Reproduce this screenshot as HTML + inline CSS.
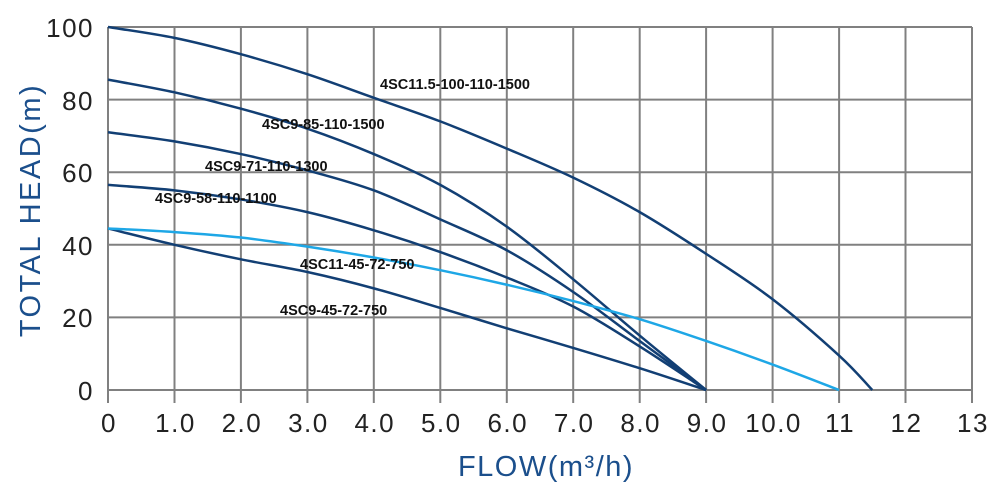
<!DOCTYPE html>
<html><head><meta charset="utf-8"><style>body{margin:0;background:#fff}svg{display:block}</style></head>
<body>
<svg id="s" width="1000" height="500" viewBox="0 0 1000 500" xmlns="http://www.w3.org/2000/svg" font-family="Liberation Sans, sans-serif">
<g stroke="#808080" stroke-width="2" fill="none">
<line x1="108" y1="27" x2="972" y2="27"/><line x1="108" y1="99.6" x2="972" y2="99.6"/><line x1="108" y1="172.2" x2="972" y2="172.2"/><line x1="108" y1="244.8" x2="972" y2="244.8"/><line x1="108" y1="317.4" x2="972" y2="317.4"/><line x1="108" y1="390" x2="972" y2="390"/>
<line x1="108" y1="27" x2="108" y2="403"/><line x1="174.5" y1="27" x2="174.5" y2="403"/><line x1="240.9" y1="27" x2="240.9" y2="403"/><line x1="307.4" y1="27" x2="307.4" y2="403"/><line x1="373.8" y1="27" x2="373.8" y2="403"/><line x1="440.3" y1="27" x2="440.3" y2="403"/><line x1="506.8" y1="27" x2="506.8" y2="403"/><line x1="573.2" y1="27" x2="573.2" y2="403"/><line x1="639.7" y1="27" x2="639.7" y2="403"/><line x1="706.1" y1="27" x2="706.1" y2="403"/><line x1="772.6" y1="27" x2="772.6" y2="403"/><line x1="839.1" y1="27" x2="839.1" y2="403"/><line x1="905.5" y1="27" x2="905.5" y2="403"/><line x1="972" y1="27" x2="972" y2="403"/>
</g>
<g fill="#222" font-size="26" text-anchor="end" letter-spacing="1.5">
<text x="94" y="37">100</text><text x="94" y="110">80</text><text x="94" y="182">60</text><text x="94" y="255">40</text><text x="94" y="327">20</text><text x="94" y="400">0</text>
</g>
<g fill="#222" font-size="26" text-anchor="middle" letter-spacing="1.5">
<text x="109" y="432">0</text><text x="175.5" y="432">1.0</text><text x="241.9" y="432">2.0</text><text x="308.4" y="432">3.0</text><text x="374.8" y="432">4.0</text><text x="441.3" y="432">5.0</text><text x="507.8" y="432">6.0</text><text x="574.2" y="432">7.0</text><text x="640.7" y="432">8.0</text><text x="707.1" y="432">9.0</text><text x="773.6" y="432">10.0</text><text x="840.1" y="432">11</text><text x="906.5" y="432">12</text><text x="973" y="432">13</text>
</g>
<text x="546" y="476" font-size="29" fill="#1b4f8c" text-anchor="middle" letter-spacing="1.5">FLOW(m³/h)</text>
<text transform="translate(40,210) rotate(-90)" font-size="29" fill="#1b4f8c" text-anchor="middle" letter-spacing="2.5">TOTAL HEAD(m)</text>
<g id="curves" fill="none" stroke-width="2.5" stroke-linejoin="round"></g>
<g fill="#111" font-size="14.5" font-weight="bold">
<text x="380" y="89">4SC11.5-100-110-1500</text>
<text x="262" y="129">4SC9-85-110-1500</text>
<text x="205" y="171">4SC9-71-110-1300</text>
<text x="155" y="203">4SC9-58-110-1100</text>
<text x="300" y="269">4SC11-45-72-750</text>
<text x="280" y="315">4SC9-45-72-750</text>
</g>
</svg>
<script>
var data=[
["#123f74",[[0,100],[1,97],[2,92.5],[3,87],[4,80.5],[5,74],[6,66.5],[7,58.5],[8,49],[9,37.5],[10,25],[11,9.5],[11.5,0]]],
["#123f74",[[0,85.5],[1,82],[2,77.5],[3,72],[4,65],[5,56.5],[6,45],[7,30.5],[8,15],[9,0]]],
["#123f74",[[0,71],[1,68.5],[2,65],[3,60.5],[4,55],[5,47],[6,38.5],[7,27],[8,13.5],[9,0]]],
["#123f74",[[0,56.5],[1,55],[2,52.5],[3,49],[4,44],[5,38],[6,31],[7,23],[8,12],[9,0]]],
["#123f74",[[0,44.5],[1,40],[2,36],[3,32.5],[4,28],[5,22.6],[6,17],[7,11.6],[8,6],[9,0]]],
["#1ea7e6",[[0,44.5],[1,43.5],[2,42],[3,39.5],[4,36.5],[5,33],[6,29],[7,24.5],[8,19.5],[9,13.5],[10,7],[11,0]]]
];
function P(p){return [108+66.46*p[0],390-3.63*p[1]];}
var g=document.getElementById('curves'),h='';
data.forEach(function(d){
 var p=d[1].map(P),s='M'+p[0][0]+','+p[0][1];
 for(var i=0;i<p.length-1;i++){
  var a=p[i-1]||p[i],b=p[i],c=p[i+1],e=p[i+2]||c;
  var c1=[b[0]+(c[0]-a[0])/6,b[1]+(c[1]-a[1])/6],c2=[c[0]-(e[0]-b[0])/6,c[1]-(e[1]-b[1])/6];
  s+=' C'+c1[0]+','+c1[1]+' '+c2[0]+','+c2[1]+' '+c[0]+','+c[1];
 }
 h+='<path stroke="'+d[0]+'" d="'+s+'"/>';
});
g.innerHTML=h;
</script>
</body></html>
